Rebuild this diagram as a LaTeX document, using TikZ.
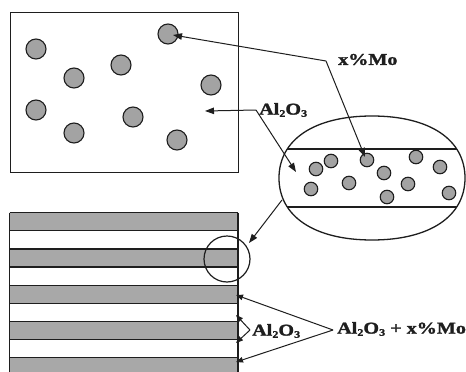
\documentclass[tikz,border=0pt]{standalone}
\usepackage{fontspec}
\setmainfont{Liberation Serif}[FakeStretch=1.22, BoldFeatures={FakeBold=1.6}]
\usetikzlibrary{arrows.meta}
\newcommand\alo{Al\raisebox{-2.2pt}{\fontsize{10}{10}\selectfont 2}O\raisebox{-2.2pt}{\fontsize{10}{10}\selectfont 3}}
\definecolor{ink}{HTML}{1E1E1E}
\definecolor{dotgray}{HTML}{A3A3A3}
\definecolor{stripegray}{HTML}{A8A8A8}
\begin{document}
\begin{tikzpicture}[x=1pt,y=-1pt,
  ln/.style={draw=ink, line width=1.3pt},
  dot/.style={circle, draw=ink, line width=1.1pt, fill=dotgray, minimum size=20pt, inner sep=0pt},
  sdot/.style={dot, minimum size=13.5pt},
  lbl/.style={font=\fontsize{16.5}{18}\selectfont\bfseries, inner sep=0pt, anchor=west, text=ink},
  arr/.style={draw=ink, line width=1pt, -{Triangle[length=9pt,width=6.5pt]}},
  sarr/.style={draw=ink, line width=1pt, -{Triangle[length=7pt,width=5.5pt]}},
]
\clip (0,0) rectangle (466,372);
\fill[white] (0,0) rectangle (466,372);

% top box with particles
\node[ln, rectangle, minimum width=228.5pt, minimum height=160pt, inner sep=0pt, anchor=north west] (topbox) at (9.5,12) {};
\node[dot] (c1) at (36,49) {};
\node[dot] (c2) at (74,78) {};
\node[dot] (c3) at (121,65) {};
\node[dot] (c4) at (168,34) {};
\node[dot] (c5) at (211,85) {};
\node[dot] (c6) at (36,110) {};
\node[dot] (c7) at (74,133) {};
\node[dot] (c8) at (133,117) {};
\node[dot] (c9) at (177,140) {};

% magnified ellipse
\begin{scope}
  \clip (279,178) .. controls (279,139.6) and (314.3,116) .. (372,116)
        .. controls (429.7,116) and (465,139.6) .. (465,178)
        .. controls (465,216.4) and (429.7,240) .. (372,240)
        .. controls (314.3,240) and (279,216.4) .. (279,178) -- cycle;
  \draw[ln, line width=1.2pt] (270,149) -- (470,149);
  \draw[ln, line width=1.2pt] (270,207) -- (470,207);
\end{scope}
\draw[ln] (279,178) .. controls (279,139.6) and (314.3,116) .. (372,116)
        .. controls (429.7,116) and (465,139.6) .. (465,178)
        .. controls (465,216.4) and (429.7,240) .. (372,240)
        .. controls (314.3,240) and (279,216.4) .. (279,178) -- cycle;
\node[sdot] (e1) at (316,169) {};
\node[sdot] (e2) at (331,161) {};
\node[sdot] (e3) at (367,160) {};
\node[sdot] (e4) at (416,157) {};
\node[sdot] (e5) at (440,167) {};
\node[sdot] (e6) at (311,189) {};
\node[sdot] (e7) at (349,183) {};
\node[sdot] (e8) at (384,173) {};
\node[sdot] (e9) at (408,184) {};
\node[sdot] (e10) at (387,197) {};
\node[sdot] (e11) at (449,193) {};

% layered stack
\foreach \k in {0,...,4}{
  \fill[stripegray] (9.5,212.7+36.2*\k) rectangle (238,230.8+36.2*\k);
}
\foreach \k in {0,...,9}{
  \draw[ln, line width=1.2pt] (9.5,212.7+18.1*\k) -- (238,212.7+18.1*\k);
}
\draw[ln] (9.5,212.7) -- (9.5,380);
\draw[ln] (238,212.7) -- (238,380);
\node[circle, draw=ink, line width=1.2pt, minimum size=46pt, inner sep=0pt] (zoomc) at (227,259) {};

% labels
\node[lbl] (mo) at (338,59.5) {x\%Mo};
\node[lbl] (al) at (259,110) {\alo};
\node[lbl] (alb) at (252,331) {\alo};
\node[lbl] (mix) at (337,329) {\alo\ + x\%Mo};

% connector points
\coordinate (mok) at (326,61);
\coordinate (mot1) at (173,35);
\coordinate (mot2) at (365,157);
\coordinate (alk) at (256,110);
\coordinate (alt1) at (205,111);
\coordinate (alt2) at (296,172);
\coordinate (ells) at (282,200);
\coordinate (ellt) at (249,243);
\coordinate (bk) at (250,330);
\coordinate (bt1) at (236,315);
\coordinate (bt2) at (236,343);
\coordinate (mk) at (333,330);
\coordinate (mt1) at (236,295);
\coordinate (mt2) at (236,362);

\draw[arr] (mok) -- (mot1);
\draw[arr] (mok) -- (mot2);
\draw[arr] (alk) -- (alt1);
\draw[arr] (alk) -- (alt2);
\draw[arr] (ells) -- (ellt);
\draw[sarr] (bk) -- (bt1);
\draw[sarr] (bk) -- (bt2);
\draw[sarr] (mk) -- (mt1);
\draw[sarr] (mk) -- (mt2);
\end{tikzpicture}
\end{document}
